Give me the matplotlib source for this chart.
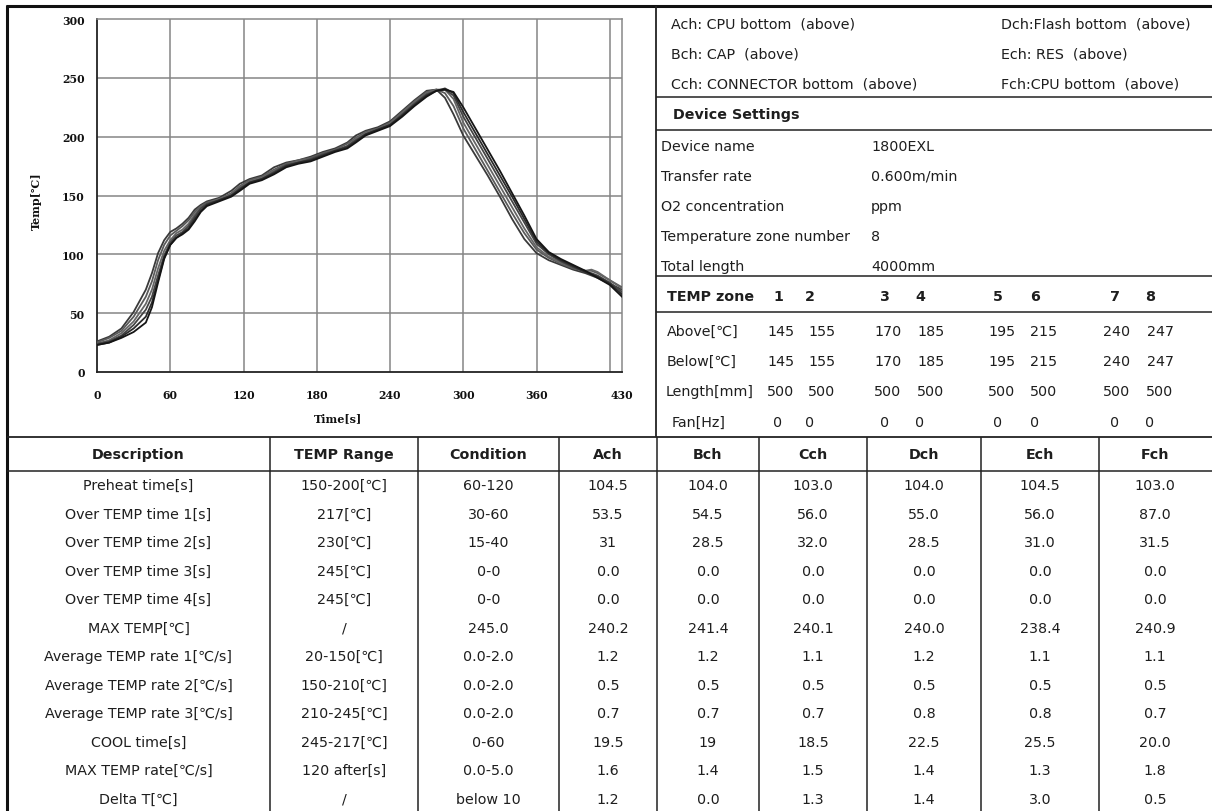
import numpy as np
import matplotlib.pyplot as plt
plt.switch_backend('agg')

# ---- profile curves (time in s, temperature in degC) ----
time_s = [0, 10, 20, 30, 40, 45, 50, 55, 60, 65, 70, 75, 80, 85, 90, 100, 110, 117, 125, 135,
          145, 155, 165, 175, 185, 195, 205, 212, 220, 230, 240, 250, 260, 270, 278, 285, 292,
          300, 310, 320, 330, 340, 350, 360, 370, 380, 390, 400, 405, 410, 420, 430]

curve_a = [26, 30, 37, 51, 70, 84, 101, 112, 119, 122, 126, 131, 138, 142, 145, 148, 154, 160, 164, 167,
           174, 178, 180, 183, 187, 190, 195, 201, 205, 208, 213, 222, 231, 239, 240, 233, 219,
           201, 184, 167, 149, 130, 113, 101, 95, 91, 87, 84, 82, 80, 75, 70]
curve_b = [25, 29, 35, 47, 64, 77, 95, 108, 116, 120, 124, 129, 136, 141, 144, 147, 152, 158, 163, 166,
           172, 177, 180, 182, 186, 189, 194, 199, 204, 207, 212, 221, 230, 238, 240, 237, 226,
           207, 189, 171, 153, 135, 118, 104, 97, 92, 88, 86, 86, 84, 78, 72]
curve_c = [24, 27, 33, 43, 58, 70, 88, 103, 112, 118, 121, 126, 134, 140, 143, 147, 151, 157, 162, 165,
           171, 176, 179, 181, 185, 188, 192, 198, 203, 206, 211, 220, 229, 237, 240, 240, 232,
           212, 194, 176, 158, 140, 122, 106, 98, 93, 89, 86, 87, 85, 78, 71]
curve_d = [24, 26, 31, 40, 53, 64, 82, 99, 110, 116, 119, 124, 132, 139, 143, 146, 150, 156, 161, 164,
           170, 176, 178, 181, 185, 188, 192, 197, 202, 206, 210, 219, 228, 236, 239, 240, 235,
           217, 199, 181, 163, 145, 127, 109, 100, 94, 89, 85, 84, 82, 76, 68]
curve_e = [23, 25, 30, 37, 47, 59, 78, 97, 108, 114, 118, 122, 130, 137, 142, 146, 150, 155, 161, 164,
           169, 175, 178, 180, 184, 188, 191, 196, 202, 206, 210, 218, 227, 235, 239, 241, 237,
           221, 203, 185, 167, 149, 130, 111, 101, 95, 90, 85, 83, 81, 75, 66]
curve_f = [23, 25, 29, 34, 42, 55, 76, 96, 108, 114, 117, 121, 128, 136, 141, 145, 149, 154, 160, 163,
           168, 174, 177, 179, 183, 187, 190, 195, 201, 205, 209, 217, 226, 234, 239, 240, 238,
           225, 207, 189, 171, 152, 133, 113, 102, 96, 91, 86, 83, 80, 74, 64]

x_ticks = [0, 60, 120, 180, 240, 300, 360, 430]
x_grid = [60, 120, 180, 240, 300, 360, 420]
y_ticks = [0, 50, 100, 150, 200, 250, 300]

# ---- right panel ----
channels_left = ["Ach: CPU bottom  (above)", "Bch: CAP  (above)", "Cch: CONNECTOR bottom  (above)"]
channels_right = ["Dch:Flash bottom  (above)", "Ech: RES  (above)", "Fch:CPU bottom  (above)"]
device_labels = ["Device name", "Transfer rate", "O2 concentration", "Temperature zone number", "Total length"]
device_values = ["1800EXL", "0.600m/min", "ppm", "8", "4000mm"]
zones = ["1", "2", "3", "4", "5", "6", "7", "8"]
zone_above = ["145", "155", "170", "185", "195", "215", "240", "247"]
zone_below = ["145", "155", "170", "185", "195", "215", "240", "247"]
zone_length = ["500", "500", "500", "500", "500", "500", "500", "500"]
zone_fan = ["0", "0", "0", "0", "0", "0", "0", "0"]

# ---- result table ----
headers = ["Description", "TEMP Range", "Condition", "Ach", "Bch", "Cch", "Dch", "Ech", "Fch"]
desc = ["Preheat time[s]", "Over TEMP time 1[s]", "Over TEMP time 2[s]", "Over TEMP time 3[s]",
        "Over TEMP time 4[s]", "MAX TEMP[℃]", "Average TEMP rate 1[℃/s]", "Average TEMP rate 2[℃/s]",
        "Average TEMP rate 3[℃/s]", "COOL time[s]", "MAX TEMP rate[℃/s]", "Delta T[℃]"]
temp_range = ["150-200[℃]", "217[℃]", "230[℃]", "245[℃]", "245[℃]", "/", "20-150[℃]",
              "150-210[℃]", "210-245[℃]", "245-217[℃]", "120 after[s]", "/"]
condition = ["60-120", "30-60", "15-40", "0-0", "0-0", "245.0", "0.0-2.0", "0.0-2.0", "0.0-2.0",
             "0-60", "0.0-5.0", "below 10"]
ach = ["104.5", "53.5", "31", "0.0", "0.0", "240.2", "1.2", "0.5", "0.7", "19.5", "1.6", "1.2"]
bch = ["104.0", "54.5", "28.5", "0.0", "0.0", "241.4", "1.2", "0.5", "0.7", "19", "1.4", "0.0"]
cch = ["103.0", "56.0", "32.0", "0.0", "0.0", "240.1", "1.1", "0.5", "0.7", "18.5", "1.5", "1.3"]
dch = ["104.0", "55.0", "28.5", "0.0", "0.0", "240.0", "1.2", "0.5", "0.8", "22.5", "1.4", "1.4"]
ech = ["104.5", "56.0", "31.0", "0.0", "0.0", "238.4", "1.1", "0.5", "0.8", "25.5", "1.3", "3.0"]
fch = ["103.0", "87.0", "31.5", "0.0", "0.0", "240.9", "1.1", "0.5", "0.7", "20.0", "1.8", "0.5"]

W, H = 1212, 812
fig = plt.figure(figsize=(W / 100, H / 100), dpi=100)
fig.patch.set_facecolor('white')

bg = fig.add_axes([0, 0, 1, 1])
bg.set_xlim(0, W)
bg.set_ylim(H, 0)
bg.axis('off')

TXT = '#1e1e1e'
FS = 10.3


def hline(y, x0=7, x1=W, lw=1.0, c='#222222'):
    bg.plot([x0, x1], [y, y], color=c, lw=lw, solid_capstyle='butt')


def vline(x, y0, y1, lw=1.0, c='#222222'):
    bg.plot([x, x], [y0, y1], color=c, lw=lw, solid_capstyle='butt')


def txt(x, y, s, ha='left', bold=False, size=FS):
    bg.text(x, y, s, ha=ha, va='center', fontsize=size, color=TXT,
            fontweight='bold' if bold else 'normal', family='DejaVu Sans')


# frame
hline(7, 6, W, lw=2.2, c='#111111')
vline(7, 6, H, lw=2.2, c='#111111')
vline(656, 7, 438, lw=1.3)
for yy in [98, 131, 277, 313]:
    hline(yy, 656, W, lw=1.1)
hline(438, 7, W, lw=1.3)
hline(472, 7, W, lw=1.1)
col_edges = [7, 270, 418, 559, 657, 759, 867, 981, 1099, 1326]
for xx in col_edges[1:-1]:
    vline(xx, 438, H, lw=1.1)

# channel legend
for i, s in enumerate(channels_left):
    txt(671, 24 + i * 30, s)
for i, s in enumerate(channels_right):
    txt(1001, 24 + i * 30, s)
txt(673, 115, "Device Settings", bold=True)
for i, (lab, val) in enumerate(zip(device_labels, device_values)):
    txt(661, 147 + i * 30, lab)
    txt(871, 147 + i * 30, val)

# zone table
zone_hx = [778, 810, 885, 920, 998, 1035, 1115, 1150]
zone_vx = [781, 822, 888, 931, 1002, 1044, 1117, 1160]
txt(667, 297, "TEMP zone", bold=True)
for z, xx in zip(zones, zone_hx):
    txt(xx, 297, z, ha='center', bold=True)
rows = [("Above[℃]", zone_above, 667, 332, zone_vx),
        ("Below[℃]", zone_below, 667, 362, zone_vx),
        ("Length[mm]", zone_length, 666, 392, zone_vx),
        ("Fan[Hz]", zone_fan, 672, 423, zone_hx)]
for lab, vals, lx, yy, xs in rows:
    txt(lx, yy, lab)
    for v, xx in zip(vals, xs):
        txt(xx, yy, v, ha='center')

# result table
centers = [(col_edges[i] + col_edges[i + 1]) / 2 for i in range(len(col_edges) - 1)]
centers[-1] = 1155
for h, cx in zip(headers, centers):
    txt(cx, 455, h, ha='center', bold=True)
columns = [desc, temp_range, condition, ach, bch, cch, dch, ech, fch]
for j, col in enumerate(columns):
    for i, v in enumerate(col):
        txt(centers[j], 472 + 28.5 * (i + 0.5), v, ha='center')

# ---- profile chart ----
ax = fig.add_axes([97 / W, (H - 373) / H, 525 / W, 353 / H])
colors = ['#3a3a3a', '#5a5a5a', '#666666', '#444444', '#2a2a2a', '#151515']
for ys, c in zip([curve_a, curve_b, curve_c, curve_d, curve_e, curve_f], colors):
    ax.plot(time_s, ys, color=c, lw=1.3, zorder=3)
ax.set_xlim(0, 430)
ax.set_ylim(0, 300)
ax.set_xticks(x_ticks)
ax.set_yticks(y_ticks)
for gx in x_grid:
    ax.axvline(gx, color='#858585', lw=1.1, zorder=1)
for gy in y_ticks[1:-1]:
    ax.axhline(gy, color='#858585', lw=1.1, zorder=1)
ax.tick_params(which='both', length=0)
ax.tick_params(axis='x', pad=12)
ax.tick_params(axis='y', pad=9)
for lab in ax.get_xticklabels() + ax.get_yticklabels():
    lab.set_family('DejaVu Serif')
    lab.set_fontweight('bold')
    lab.set_fontsize(7.8)
    lab.set_color('#111111')
for side in ['top', 'right']:
    ax.spines[side].set_color('#888888')
    ax.spines[side].set_linewidth(1.1)
for side in ['left', 'bottom']:
    ax.spines[side].set_color('#222222')
    ax.spines[side].set_linewidth(1.3)
ax.set_xlabel("Time[s]", family='DejaVu Serif', fontweight='bold', fontsize=8, color='#111111')
ax.set_ylabel("Temp[℃]", family='DejaVu Serif', fontweight='bold', fontsize=8, color='#111111')
ax.xaxis.set_label_coords(0.459, -0.113)
ax.yaxis.set_label_coords(-0.105, 0.487)

fig.savefig('out.png', dpi=100)
